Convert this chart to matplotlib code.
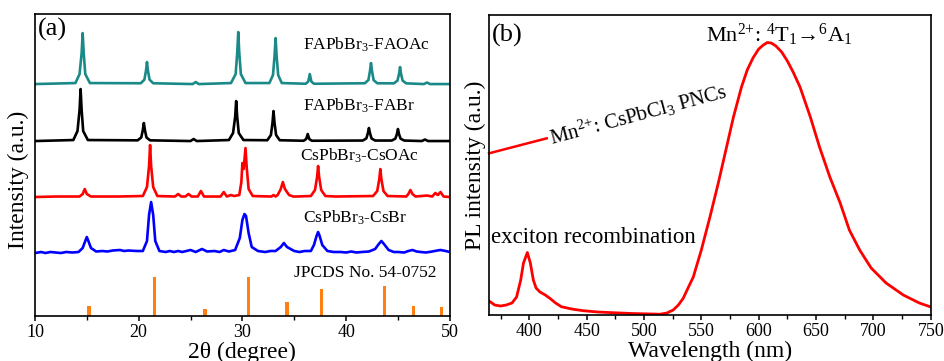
import matplotlib
matplotlib.use('Agg')
import matplotlib.pyplot as plt
from matplotlib.ticker import MultipleLocator

plt.rcParams['font.family'] = ['Liberation Serif', 'DejaVu Serif']
plt.rcParams['mathtext.fontset'] = 'custom'
plt.rcParams['mathtext.rm'] = 'Liberation Serif'
plt.rcParams['mathtext.it'] = 'Liberation Serif:italic'
plt.rcParams['mathtext.bf'] = 'Liberation Serif:bold'

# XRD patterns (heights above each pattern's own baseline, a.u.)
x_faoac = [10, 13.9, 14.3, 14.5, 14.6, 14.7, 14.85, 15.3,
           20.2, 20.55, 20.7, 20.8, 20.9, 21.05, 21.4,
           25.2, 25.5, 25.8,
           28.9, 29.35, 29.5, 29.6, 29.7, 29.85, 30.3,
           32.6, 32.95, 33.1, 33.2, 33.3, 33.45, 33.8,
           36.1, 36.35, 36.5, 36.65, 36.9,
           41.8, 42.15, 42.3, 42.4, 42.5, 42.65, 43.0,
           44.6, 44.95, 45.1, 45.2, 45.3, 45.45, 45.8,
           47.5, 47.8, 48.1, 50]
y_faoac = [0, 1, 10, 31, 51, 31, 10, 1,
           0.8, 4.4, 13, 22, 13, 4.4, 0.8,
           0, 2, 0,
           1, 10, 31, 52, 31, 10, 1,
           1, 9, 28, 46, 28, 9, 1,
           0.3, 2.5, 10, 2.5, 0.3,
           0.8, 4, 13, 21, 13, 4, 0.8,
           0.7, 3.4, 10, 17, 10, 3.4, 0.7,
           0, 1.5, 0, 0]

x_fabr = [10, 13.7, 14.1, 14.3, 14.4, 14.5, 14.65, 15.1,
          19.9, 20.25, 20.4, 20.5, 20.6, 20.75, 21.1,
          25.0, 25.3, 25.6,
          28.7, 29.1, 29.3, 29.4, 29.5, 29.65, 30.1,
          32.4, 32.75, 32.9, 33.0, 33.1, 33.25, 33.6,
          35.9, 36.15, 36.3, 36.45, 36.7,
          41.6, 41.95, 42.1, 42.2, 42.3, 42.45, 42.8,
          44.4, 44.75, 44.9, 45.0, 45.1, 45.25, 45.6,
          47.3, 47.6, 47.9, 50]
y_fabr = [0, 1, 10, 31, 52, 31, 10, 1,
          0.7, 3.6, 11, 18, 11, 3.6, 0.7,
          0, 2, 0,
          1, 8, 24, 40, 24, 8, 1,
          0.8, 6, 18, 30, 18, 6, 0.8,
          0.3, 2, 7, 2, 0.3,
          0.5, 2.6, 8, 13, 8, 2.6, 0.5,
          0.5, 2.4, 7, 12, 7, 2.4, 0.5,
          0, 1.5, 0, 0]

x_csoac = [10, 12, 14.3, 14.6, 14.8, 15.0, 15.4,
           18, 20.4, 20.8, 21.0, 21.1, 21.2, 21.4, 21.8,
           23.5, 23.8, 24.1, 24.5, 24.8, 25.1,
           25.7, 26.0, 26.3, 27.9, 28.2, 28.5, 28.9, 29.2,
           29.7, 29.9, 30.0, 30.12, 30.3, 30.42, 30.6, 31.0,
           32.8, 33.0, 33.2, 33.4, 33.7, 33.9, 34.1, 34.5, 34.9, 35.2,
           36.6, 37.0, 37.2, 37.3, 37.4, 37.6, 38.0, 39,
           42.6, 43.0, 43.2, 43.3, 43.4, 43.6, 44.0,
           45.8, 46.0, 46.2, 46.4, 46.7, 47.8, 48.3, 48.6, 48.85, 49.1, 49.4, 50]
y_csoac = [0, 0.5, 0.5, 3, 8, 3, 0.5,
           0.5, 1, 10, 31, 52, 31, 10, 1,
           0.5, 3, 0.5, 0.5, 3, 0.5,
           0.5, 6, 0.5, 0.5, 5, 0.5, 2, 1,
           2, 15, 34, 28, 49, 29, 8, 1,
           0.5, 2, 0.5, 2, 8, 15, 8, 2, 0.5, 0.5,
           1, 7, 20, 31, 20, 7, 1, 0.5,
           1, 6, 18, 28, 18, 6, 1,
           0.5, 3, 7, 3, 0.5, 1.5, 0.5, 4, 2, 5, 0.5, 0]

x_csbr = [10, 10.6, 11, 11.5, 12, 12.5, 13, 13.6, 14.2, 14.6, 14.85, 15.0, 15.15, 15.4, 15.9,
          16.5, 17.0, 17.5, 18.2, 18.6, 19, 19.8, 20.4, 20.8, 21.0, 21.2, 21.4, 21.6, 22.0,
          22.6, 23.0, 23.4, 23.8, 24.2, 25.0, 25.5, 26.1, 26.6, 27.3, 27.8, 28.2, 28.7,
          29.3, 29.75, 30.0, 30.2, 30.35, 30.6, 30.9, 31.5,
          32.2, 32.7, 33.2, 33.7, 34.0, 34.3, 35.0, 35.5, 36.0, 36.6,
          36.9, 37.15, 37.3, 37.45, 37.7, 38.2, 38.8, 39.5, 40.0, 40.5, 41.0, 41.5, 42.2,
          42.8, 43.15, 43.4, 43.65, 44.1,
          44.6, 45.0, 45.6, 46.0, 46.4, 46.8, 47.2, 47.7, 48.3, 48.8, 49.1, 49.6, 50]
y_csbr = [0, 1, 0, 1, 0.5, 0, 1, 0.5, 1, 5, 12, 16, 12, 5, 1.5,
          2, 1.5, 2.5, 3, 2, 2.5, 2, 2, 12, 38, 51, 38, 12, 2,
          1, 2, 1, 2, 1, 3, 1, 4, 1.5, 2, 1, 3, 1.5,
          3, 15, 33, 39, 37, 20, 6, 2,
          1, 2, 2, 6, 10, 6, 2, 1, 2, 2,
          8, 17, 21, 17, 8, 2, 1, 1, 0.5, 1.5, 0.5, 1, 1.5,
          4, 9, 12, 9, 3,
          1, 1, 0.5, 2, 3, 1.5, 1, 0.5, 1.5, 2.5, 3, 2, 1]

# standard card lines
ref_pos = [15.2, 21.5, 26.4, 30.6, 34.3, 37.6, 43.7, 46.5, 49.2]
ref_int = [10, 39, 7, 39, 14, 27, 30, 10, 9]

# PL spectrum
wl = [365, 370, 375, 380, 385, 389, 392.6, 395, 398.4, 401,
      403.6, 406, 409.4, 414, 418, 423, 428, 437, 447, 460,
      475, 490, 500, 508, 514, 520, 525.5, 530, 534.2, 538,
      543, 550, 557.5, 565, 572, 578, 585, 590, 595, 600,
      604, 607.5, 611, 615, 620, 625, 630, 636, 645, 653,
      662, 671, 679, 688, 698, 711, 726, 740, 750]
pl = [14, 10, 9, 10, 12, 18, 35, 52, 62.5, 52,
      35, 27, 23, 20, 16.7, 12, 8.3, 6, 4.3, 3,
      2.2, 1.5, 1.2, 1, 0.8, 2, 5, 10, 16.7, 26,
      38, 65, 98, 133, 168, 198, 228, 245, 257, 266,
      270, 272.5, 272, 269, 263, 254, 243, 228, 198, 168,
      138, 112, 85, 65, 47, 32, 20, 12, 8]

fig = plt.figure(figsize=(9.45, 3.61), dpi=100)
ax1 = fig.add_axes([0.037, 0.1247, 0.439, 0.8363])
ax2 = fig.add_axes([0.5175, 0.1274, 0.4675, 0.831])

# (a) XRD
curves = [(x_faoac, y_faoac, 232, '#1a8a88'),
          (x_fabr, y_fabr, 175, 'black'),
          (x_csoac, y_csoac, 119, '#ff0000'),
          (x_csbr, y_csbr, 63, '#0000ff')]
for xs, ys, off, c in curves:
    ax1.plot(xs, [v + off for v in ys], color=c, lw=1.9, solid_joinstyle='round')
ax1.bar(ref_pos, ref_int, width=0.33, color='#ff8010')

fs = 12.5
ax1.text(35.8, 266, 'FAPbBr$_3$-FAOAc', fontsize=fs)
ax1.text(35.8, 205, 'FAPbBr$_3$-FABr', fontsize=fs)
ax1.text(35.6, 155, 'CsPbBr$_3$-CsOAc', fontsize=fs)
ax1.text(35.8, 93, 'CsPbBr$_3$-CsBr', fontsize=fs)
ax1.text(35.0, 39, 'JPCDS No. 54-0752', fontsize=fs)
ax1.text(0.008, 0.93, '(a)', transform=ax1.transAxes, fontsize=19)

ax1.set_xlim(10, 50)
ax1.set_ylim(0, 302)
ax1.set_yticks([])
ax1.xaxis.set_major_locator(MultipleLocator(10))
ax1.xaxis.set_minor_locator(MultipleLocator(5))
ax1.set_xlabel('2θ (degree)', fontsize=17, labelpad=1)
ax1.set_ylabel('Intensity (a.u.)', fontsize=17, labelpad=2)
ax1.yaxis.set_label_coords(-0.015, 0.45)

# (b) PL
ax2.plot(wl, pl, color='#ff0000', lw=2.0, solid_joinstyle='round')
ax2.plot([365, 415.3], [161.7, 176.7], color='#ff0000', lw=1.8, clip_on=False)
ax2.text(419.6, 170, 'Mn$^{2{+}}$: CsPbCl$_3$ PNCs', fontsize=15, rotation=15,
         rotation_mode='anchor', ha='left', va='baseline')
ax2.text(554, 273, 'Mn$^{2{+}}$: $^{4}$T$_{1}$→$^{6}$A$_{1}$', fontsize=16)
ax2.text(366.5, 72, 'exciton recombination', fontsize=16.5)
ax2.text(367.6, 273, '(b)', fontsize=19)

ax2.set_xlim(365, 750)
ax2.set_ylim(0, 300)
ax2.set_yticks([])
ax2.xaxis.set_major_locator(MultipleLocator(50))
ax2.xaxis.set_minor_locator(MultipleLocator(25))
ax2.set_xlabel('Wavelength (nm)', fontsize=17, labelpad=1)
ax2.set_ylabel('PL intensity (a.u.)', fontsize=17, labelpad=2)

for ax in (ax1, ax2):
    for s in ax.spines.values():
        s.set_linewidth(1.2)
    ax.tick_params(axis='x', which='major', direction='out', length=3.5, width=1.1,
                   labelsize=13, pad=2)
    ax.tick_params(axis='x', which='minor', direction='out', length=3, width=1.0)

fig.savefig('out.png', dpi=100)
